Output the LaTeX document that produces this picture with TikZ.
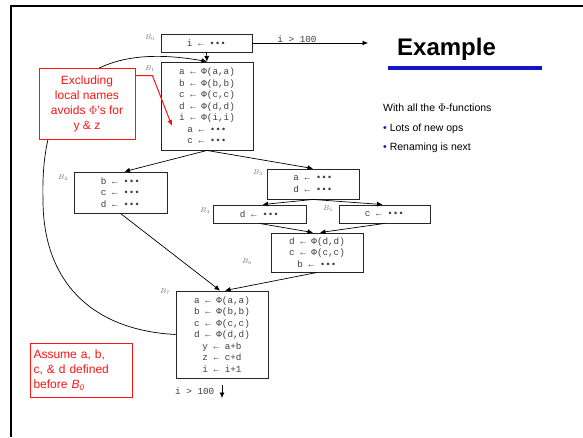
\documentclass[tikz,border=0pt]{standalone}
\usepackage{fontspec}
\setmainfont{Liberation Sans}
\newfontfamily\codefont{Liberation Mono}
\usetikzlibrary{arrows.meta}
\definecolor{ulblue}{RGB}{20,20,200}
\definecolor{notered}{RGB}{255,20,20}
\begin{document}
\begin{tikzpicture}[x=1pt,y=-1pt,
  blk/.style={draw=black!85, line width=0.9pt, inner sep=0pt, align=center,
    font=\codefont\fontsize{9.3}{11.5}\selectfont, text=black!75},
  blklabel/.style={font=\fontsize{7}{8}\selectfont, text=black!55, inner sep=0pt},
  flow/.style={-{Latex[length=5.5pt,width=5pt]}, line width=0.7pt},
  note/.style={draw=notered, fill=white, line width=0.9pt, text=notered, inner sep=0pt,
    font=\fontsize{12}{15}\selectfont},
  bodytext/.style={anchor=base west, inner sep=0pt, font=\fontsize{10.5}{12}\selectfont},
  cond/.style={inner sep=0pt, font=\codefont\fontsize{9.3}{10}\selectfont, text=black!75},
]
% page area
\fill[white] (0,0) rectangle (583,437);
\useasboundingbox (0,0) rectangle (583,437);

% slide frame
\draw[line width=2.5pt, line join=miter] (11,437) -- (11,6) -- (583,6);

% title and rule
\node[anchor=base west, inner sep=0pt, font=\bfseries\fontsize{24}{26}\selectfont] (title) at (397,55) {Example};
\draw[ulblue, line width=4pt] (388,68) -- (542,68);

% bullet text
\node[bodytext] (t1) at (383,111) {With all the $\Phi$-functions};
\node[bodytext] (t2) at (383,131) {{\color{ulblue}\textbullet}~Lots of new ops};
\node[bodytext] (t3) at (383,150) {{\color{ulblue}\textbullet}~Renaming is next};

% basic blocks
\node[blk, minimum width=91pt, minimum height=18pt] (B0) at (206.5,43) {i ← •••};
\node[blk, minimum width=92pt, minimum height=88pt] (B1) at (207,106)
  {a ← Φ(a,a)\\ b ← Φ(b,b)\\ c ← Φ(c,c)\\ d ← Φ(d,d)\\ i ← Φ(i,i)\\ a ← •••\\ c ← •••};
\node[blk, minimum width=93pt, minimum height=41pt] (B2) at (120.5,192.5)
  {b ← •••\\ c ← •••\\ d ← •••};
\node[blk, minimum width=92pt, minimum height=30pt] (B3) at (313,184)
  {a ← •••\\ d ← •••};
\node[blk, minimum width=93pt, minimum height=18pt] (B4) at (259.5,214) {d ← •••};
\node[blk, minimum width=91pt, minimum height=18pt] (B5) at (384.5,214) {c ← •••};
\node[blk, minimum width=92pt, minimum height=39pt] (B6) at (317,252.5)
  {d ← Φ(d,d)\\ c ← Φ(c,c)\\ b ← •••};
\node[blk, minimum width=92pt, minimum height=87pt] (B7) at (222,334.5)
  {a ← Φ(a,a)\\ b ← Φ(b,b)\\ c ← Φ(c,c)\\ d ← Φ(d,d)\\ y ← a+b\\ z ← c+d\\ i ← i+1};

% block names
\node[blklabel] (L0) at (150,38) {$B_0$};
\node[blklabel] (L1) at (150,69) {$B_1$};
\node[blklabel] (L2) at (63,178) {$B_2$};
\node[blklabel] (L3) at (258,173) {$B_3$};
\node[blklabel] (L4) at (205,211) {$B_4$};
\node[blklabel] (L5) at (328,209) {$B_5$};
\node[blklabel] (L6) at (247,262) {$B_6$};
\node[blklabel] (L7) at (165,292) {$B_7$};

% exit edges
\coordinate (exitR) at (368,43);
\draw[flow] (B0.east) -- (exitR);
\node[cond, anchor=base] (c1) at (297,42) {i > 100};
\coordinate (exitD) at (222,398);
\draw[flow] ([yshift=-7pt]B7.south) -- (exitD);
\node[cond, anchor=base west] (c2) at (175,394) {i > 100};

% control-flow edges
\draw[flow] (B0.south) -- (B1.north);
\draw[flow] (B1.south) -- ([xshift=4pt]B2.north);
\draw[flow] (B1.south) -- (B3.north);
\draw[flow] (B3.south) -- ([xshift=3pt]B4.north);
\draw[flow] (B3.south) -- ([xshift=-2pt]B5.north);
\draw[flow] (B4.south) -- ([xshift=-4pt]B6.north);
\draw[flow] (B5.south) -- ([xshift=3pt]B6.north);
\draw[flow] (B2.south) -- ([xshift=-2pt]B7.north);
\draw[flow] (B6.south) -- ([xshift=3pt]B7.north);
% back edge of the loop
\draw[flow] (B7.west) .. controls (90,330) and (43,280) .. (43,200)
  .. controls (40,95) and (85,40) .. (B1.north);

% annotations
\node[note, minimum width=96pt, minimum height=71pt, align=center] (n1) at (87,103.5)
  {Excluding\\ local names\\ avoids $\Phi$’s for\\ y \& z};
\coordinate (phiT) at (172,126);
\draw[notered, line width=1pt, -{Latex[length=6pt,width=5pt]}]
  ([yshift=-8pt]n1.north east) -- ++(17,0) -- (phiT);
\node[note, minimum width=102pt, minimum height=54pt, align=left, text width=95pt] (n2) at (81,370)
  {Assume a, b,\\ c, \& d defined\\ before \textit{B\textsubscript{0}}};
\end{tikzpicture}
\end{document}
